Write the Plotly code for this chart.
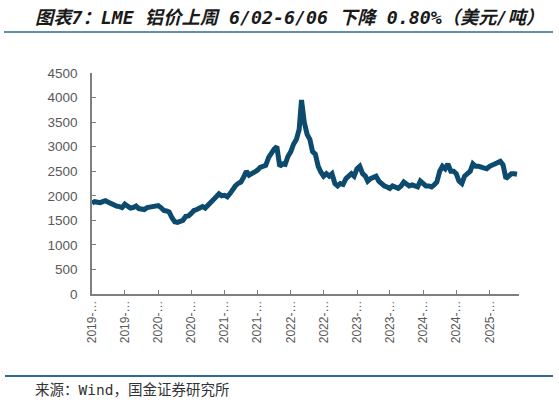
import plotly.graph_objects as go

# Semi-monthly LME aluminium price (USD/t)
dates = []
for y in range(2019, 2026):
    for m in range(1, 13):
        for d in (1, 16):
            dates.append(f"{y}-{m:02d}-{d:02d}")

prices = [
    # 2019
    1850, 1880, 1870, 1860, 1880, 1900, 1870, 1840, 1830, 1790, 1780, 1760,
    1830, 1790, 1750, 1760, 1790, 1740, 1730, 1720, 1760, 1770, 1770, 1790,
    # 2020
    1800, 1760, 1700, 1690, 1670, 1560, 1470, 1460, 1470, 1500, 1580, 1590,
    1640, 1700, 1720, 1760, 1780, 1750, 1800, 1860, 1930, 1980, 2040, 2000,
    # 2021
    2010, 1980, 2050, 2150, 2200, 2250, 2280, 2380, 2500, 2420, 2450, 2470,
    2520, 2580, 2600, 2620, 2780, 2880, 2950, 3000, 2600, 2650, 2640, 2800,
    # 2022
    2900, 3050, 3150, 3350, 3950, 3500, 3250, 3150, 2900, 2850, 2600, 2480,
    2400, 2450, 2400, 2450, 2250, 2200, 2250, 2230, 2350, 2400, 2450, 2400,
    # 2023
    2550, 2600, 2450, 2400, 2300, 2350, 2380, 2400, 2300, 2240, 2200, 2180,
    2150, 2200, 2180, 2150, 2200, 2280, 2240, 2200, 2220, 2200, 2180, 2300,
    # 2024
    2250, 2200, 2200, 2180, 2220, 2280, 2500, 2600, 2550, 2650, 2500, 2500,
    2450, 2300, 2250, 2400, 2450, 2500, 2650, 2600, 2600, 2580, 2550, 2550,
    # 2025
    2600, 2620, 2650, 2680, 2700, 2630, 2350, 2400, 2450, 2450, 2440,
]
dates = dates[:len(prices)]

tick_vals = ["2019-01-01", "2019-07-01", "2020-01-01", "2020-07-01", "2021-01-01",
             "2021-07-01", "2022-01-01", "2022-07-01", "2023-01-01", "2023-07-01",
             "2024-01-01", "2024-07-01", "2025-01-01"]
tick_text = [v[:5] + "…" for v in tick_vals]

title = "图表7：LME 铝价上周 6/02-6/06 下降 0.80%（美元/吨）"
source = "来源：Wind，国金证券研究所"

fig = go.Figure()
fig.add_trace(go.Scatter(x=dates, y=prices, mode="lines",
                         line=dict(color="#0c4a6e", width=5), showlegend=False))

L, R, T, B = 92, 40, 73, 110
W, H = 559, 404
pw, ph = W - L - R, H - T - B

def px(x):
    return (x - L) / pw

def py(y):
    return (H - B - y) / ph

fig.update_layout(
    width=W, height=H,
    margin=dict(l=L, r=R, t=T, b=B),
    plot_bgcolor="white", paper_bgcolor="white",
    font=dict(family="Liberation Sans, Arial", size=12, color="#595959"),
    xaxis=dict(type="date", range=["2019-01-01", "2025-06-12"],
               tickvals=tick_vals, ticktext=tick_text, tickangle=-90,
               showgrid=False, zeroline=False, showline=True, linecolor="#7f7f7f",
               linewidth=1.5, ticks="inside", ticklen=4, tickcolor="#7f7f7f",
               tickfont=dict(size=12, color="#595959")),
    yaxis=dict(range=[0, 4500], tickvals=list(range(0, 4501, 500)),
               showgrid=False, zeroline=False, showline=True, linecolor="#7f7f7f",
               linewidth=1.5, ticks="inside", ticklen=4, tickcolor="#7f7f7f",
               ticklabelstandoff=10, tickfont=dict(size=13.5, color="#595959")),
    shapes=[
        dict(type="line", xref="paper", yref="paper", x0=px(4), x1=px(553),
             y0=py(32), y1=py(32), line=dict(color="#2f6a93", width=1.5)),
        dict(type="line", xref="paper", yref="paper", x0=px(5), x1=px(553),
             y0=py(376), y1=py(376), line=dict(color="#2f6a93", width=2)),
    ],
    annotations=[
        dict(text="<b><i>" + title + "</i></b>", xref="paper", yref="paper",
             x=px(33), y=py(17), xanchor="left", yanchor="middle", showarrow=False,
             font=dict(family="DejaVu Sans Mono, Noto Sans CJK SC", size=18.3,
                       color="#1a1a1a")),
        dict(text=source, xref="paper", yref="paper",
             x=px(33), y=py(390), xanchor="left", yanchor="middle", showarrow=False,
             font=dict(family="DejaVu Sans Mono, Noto Sans CJK SC", size=14.5,
                       color="#333333")),
    ],
)

fig.write_html("out.html")
